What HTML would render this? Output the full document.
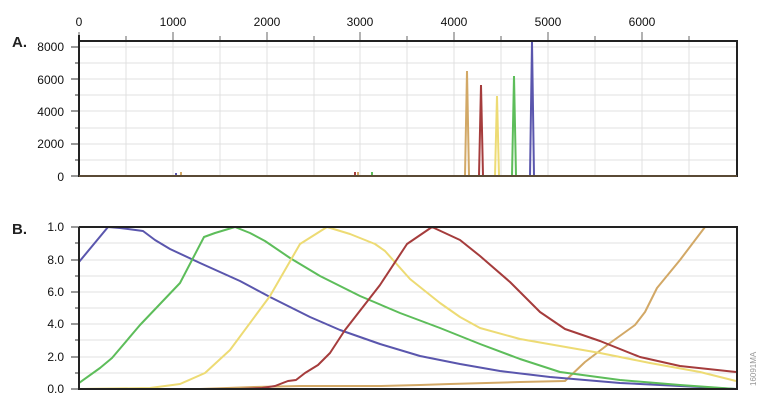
<!DOCTYPE html>
<html><head><meta charset="utf-8"><style>
html,body{margin:0;padding:0;background:#fff;}
svg{display:block;font-family:"Liberation Sans",sans-serif;}
</style></head><body>
<svg width="760" height="405" viewBox="0 0 760 405" xmlns="http://www.w3.org/2000/svg">
<g stroke="#e0e0e0" stroke-width="1">
  <line x1="126" y1="41" x2="126" y2="176"/><line x1="173" y1="41" x2="173" y2="176"/>
  <line x1="220" y1="41" x2="220" y2="176"/><line x1="267" y1="41" x2="267" y2="176"/>
  <line x1="314" y1="41" x2="314" y2="176"/><line x1="360" y1="41" x2="360" y2="176"/>
  <line x1="407" y1="41" x2="407" y2="176"/><line x1="454" y1="41" x2="454" y2="176"/>
  <line x1="501" y1="41" x2="501" y2="176"/><line x1="548" y1="41" x2="548" y2="176"/>
  <line x1="595" y1="41" x2="595" y2="176"/><line x1="642" y1="41" x2="642" y2="176"/>
  <line x1="689" y1="41" x2="689" y2="176"/>
  <line x1="79" y1="47" x2="736" y2="47"/><line x1="79" y1="63" x2="736" y2="63"/>
  <line x1="79" y1="79" x2="736" y2="79"/><line x1="79" y1="95" x2="736" y2="95"/>
  <line x1="79" y1="111" x2="736" y2="111"/><line x1="79" y1="128" x2="736" y2="128"/>
  <line x1="79" y1="144" x2="736" y2="144"/><line x1="79" y1="160" x2="736" y2="160"/>
</g>
<g stroke="#999" stroke-width="1.5">
  <line x1="79" y1="32" x2="79" y2="41"/><line x1="126" y1="36" x2="126" y2="41"/>
  <line x1="173" y1="32" x2="173" y2="41"/><line x1="220" y1="36" x2="220" y2="41"/>
  <line x1="267" y1="32" x2="267" y2="41"/><line x1="314" y1="36" x2="314" y2="41"/>
  <line x1="360" y1="32" x2="360" y2="41"/><line x1="407" y1="36" x2="407" y2="41"/>
  <line x1="454" y1="32" x2="454" y2="41"/><line x1="501" y1="36" x2="501" y2="41"/>
  <line x1="548" y1="32" x2="548" y2="41"/><line x1="595" y1="36" x2="595" y2="41"/>
  <line x1="642" y1="32" x2="642" y2="41"/><line x1="689" y1="36" x2="689" y2="41"/>
</g>
<g stroke="#333" stroke-width="1">
  <line x1="71" y1="47" x2="79" y2="47"/><line x1="75" y1="63" x2="79" y2="63"/>
  <line x1="71" y1="79" x2="79" y2="79"/><line x1="75" y1="95" x2="79" y2="95"/>
  <line x1="71" y1="111" x2="79" y2="111"/><line x1="75" y1="128" x2="79" y2="128"/>
  <line x1="71" y1="144" x2="79" y2="144"/><line x1="75" y1="160" x2="79" y2="160"/>
  <line x1="71" y1="176" x2="79" y2="176"/>
</g>
<g fill="none" stroke-width="2">
  <polyline stroke="#d2a866" points="465,176 467,71 469,176"/>
  <polyline stroke="#a53c3c" points="479,176 481,85 483,176"/>
  <polyline stroke="#eddb74" points="495,176 497,96 499,176"/>
  <polyline stroke="#5dbd5a" points="512,176 514,76 516,176"/>
  <polyline stroke="#5a56ad" points="530,176 532,42 534,176"/>
</g>
<rect x="175" y="173" width="2" height="3" fill="#5a56ad"/>
<rect x="180" y="172" width="2" height="4" fill="#d2a866"/>
<rect x="354" y="172" width="2" height="4" fill="#a53c3c"/>
<rect x="357" y="172" width="2" height="4" fill="#d2a866"/>
<rect x="371" y="172" width="2" height="4" fill="#5dbd5a"/>
<path d="M79,35 V176 H737 V41 H79" fill="none" stroke="#222" stroke-width="2"/>
<line x1="79" y1="176" x2="737" y2="176" stroke="#5a4a35" stroke-width="2"/>
<g font-size="12" fill="#111" text-anchor="middle">
  <text x="79" y="26">0</text><text x="173" y="26">1000</text><text x="267" y="26">2000</text>
  <text x="360" y="26">3000</text><text x="454" y="26">4000</text><text x="548" y="26">5000</text>
  <text x="642" y="26">6000</text>
</g>
<g font-size="12" fill="#111" text-anchor="end">
  <text x="64" y="51">8000</text><text x="64" y="84">6000</text><text x="64" y="116">4000</text>
  <text x="64" y="148">2000</text><text x="64" y="181">0</text>
</g>
<text x="12" y="47" font-size="15" font-weight="bold" fill="#222">A.</text>

<g stroke="#e0e0e0" stroke-width="1">
  <line x1="79" y1="243" x2="736" y2="243"/><line x1="79" y1="260" x2="736" y2="260"/>
  <line x1="79" y1="276" x2="736" y2="276"/><line x1="79" y1="292" x2="736" y2="292"/>
  <line x1="79" y1="308" x2="736" y2="308"/><line x1="79" y1="324" x2="736" y2="324"/>
  <line x1="79" y1="340" x2="736" y2="340"/><line x1="79" y1="357" x2="736" y2="357"/>
  <line x1="79" y1="373" x2="736" y2="373"/>
</g>
<g stroke="#333" stroke-width="1">
  <line x1="71" y1="227" x2="79" y2="227"/><line x1="75" y1="243" x2="79" y2="243"/>
  <line x1="71" y1="260" x2="79" y2="260"/><line x1="75" y1="276" x2="79" y2="276"/>
  <line x1="71" y1="292" x2="79" y2="292"/><line x1="75" y1="308" x2="79" y2="308"/>
  <line x1="71" y1="324" x2="79" y2="324"/><line x1="75" y1="340" x2="79" y2="340"/>
  <line x1="71" y1="357" x2="79" y2="357"/><line x1="75" y1="373" x2="79" y2="373"/>
  <line x1="71" y1="389" x2="79" y2="389"/>
</g>
<g fill="none" stroke-width="2" stroke-linejoin="round">
  <polyline stroke="#d2a866" points="79,389 200,389 254,387 300,386 380,386 420,385 450,384 520,382 565,381 585,362 610,343 635,325 645,312 657,288 680,260 705,227 736,227"/>
  <polyline stroke="#5a56ad" points="79,262 108,227 120,228 143,231 155,240 170,249 200,263 240,281 270,297 310,317 340,330 380,344 420,356 460,364 500,371 550,377 620,383 700,387 736,389"/>
  <polyline stroke="#5dbd5a" points="79,383 100,368 112,358 140,325 180,283 204,237 215,233 235,227 250,233 265,241 290,258 320,276 360,296 400,313 440,328 480,344 520,359 560,372 620,380 680,385 736,389"/>
  <polyline stroke="#eddb74" points="79,389 150,388 180,384 205,373 230,350 270,296 300,244 327,227 350,234 375,244 385,251 410,279 440,303 460,317 480,328 520,339 560,346 600,353 650,363 700,372 736,381"/>
  <polyline stroke="#a53c3c" points="79,389 240,389 262,388 275,386 288,381 296,380 305,373 318,365 330,353 345,330 380,285 407,244 432,227 460,240 480,256 510,282 540,312 565,329 600,341 640,357 680,366 736,372"/>
</g>
<path d="M79,227 V389 H737 V227 H79" fill="none" stroke="#222" stroke-width="2"/>
<g font-size="12" fill="#111" text-anchor="end">
  <text x="64" y="231">1.0</text><text x="64" y="264">8.0</text><text x="64" y="296">6.0</text>
  <text x="64" y="328">4.0</text><text x="64" y="361">2.0</text><text x="64" y="393">0.0</text>
</g>
<text x="12" y="234" font-size="15" font-weight="bold" fill="#222">B.</text>
<text transform="translate(756,386) rotate(-90)" font-size="8" fill="#999">16091MA</text>
</svg>
</body></html>
